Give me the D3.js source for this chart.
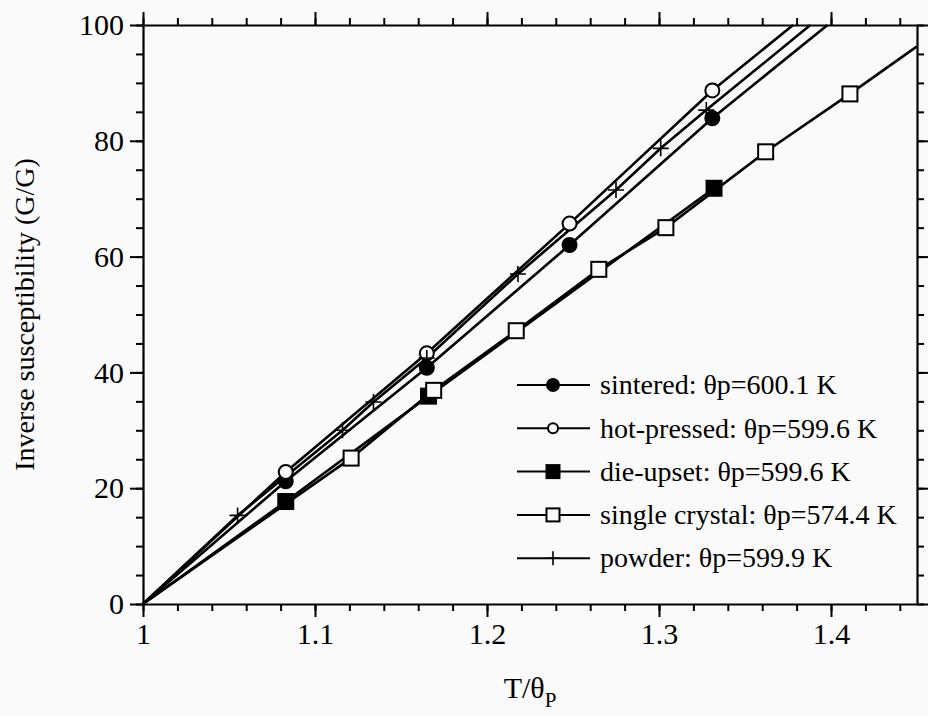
<!DOCTYPE html>
<html>
<head>
<meta charset="utf-8">
<script src="https://cdn.jsdelivr.net/npm/d3@7"></script>
<style>
  html, body { margin: 0; padding: 0; background: #fafafa; }
  svg { display: block; }
  text { font-family: 'Liberation Serif', 'Times New Roman', serif; fill: #000; }
</style>
</head>
<body>
<div id="chart"></div>
<script>
// values (x = T/θp, y = inverse susceptibility)
const origin = [1, 0];

const sinteredX = [1.083, 1.165, 1.248, 1.331];
const sinteredY = [21.2, 40.8, 62.0, 83.9];
const sinteredEnd = [1.398, 100];

const hotPressedX = [1.083, 1.165, 1.248, 1.331];
const hotPressedY = [22.8, 43.3, 65.7, 88.7];
const hotPressedEnd = [1.378, 100];

const dieUpsetX = [1.083, 1.166, 1.332];
const dieUpsetY = [17.7, 35.9, 71.8];

const singleCrystalX = [1.121, 1.169, 1.217, 1.265, 1.304, 1.362, 1.411];
const singleCrystalY = [25.2, 36.9, 47.2, 57.8, 65.0, 78.1, 88.1];
const singleCrystalEnd = [1.45, 96.3];

const powderX = [1.055, 1.116, 1.134, 1.165, 1.218, 1.275, 1.301, 1.3275];
const powderY = [15.3, 30.0, 34.9, 42.5, 57.0, 71.5, 78.7, 85.3];
const powderEnd = [1.388, 100];

const legendLabels = [
    "sintered: θp=600.1 K",
    "hot-pressed: θp=599.6 K",
    "die-upset: θp=599.6 K",
    "single crystal: θp=574.4 K",
    "powder: θp=599.9 K"
];

const xTicks = [1, 1.1, 1.2, 1.3, 1.4];
const xTickLabels = ["1", "1.1", "1.2", "1.3", "1.4"];
const xMinorTicks = d3.range(1, 1.4501, 0.02);
const yTicks = [0, 20, 40, 60, 80, 100];
const yTickLabels = ["0", "20", "40", "60", "80", "100"];
const yMinorTicks = d3.range(0, 100.01, 5);

const width = 928, height = 716;
const plotLeft = 143, plotRight = 917, plotTop = 25, plotBottom = 604;

const x = d3.scaleLinear().domain([1, 1.45]).range([plotLeft, plotRight]);
const y = d3.scaleLinear().domain([0, 100]).range([plotBottom, plotTop]);

const svg = d3.select("#chart").append("svg")
    .attr("width", width)
    .attr("height", height);

function zip(xs, ys) { return xs.map((v, k) => [v, ys[k]]); }

const series = [
    { pts: zip(sinteredX, sinteredY), end: sinteredEnd, marker: "filledCircle" },
    { pts: zip(hotPressedX, hotPressedY), end: hotPressedEnd, marker: "openCircle" },
    { pts: zip(dieUpsetX, dieUpsetY), end: null, marker: "filledSquare" },
    { pts: zip(singleCrystalX, singleCrystalY), end: singleCrystalEnd, marker: "openSquare" },
    { pts: zip(powderX, powderY), end: powderEnd, marker: "plus" }
];

// axes: major + minor ticks on all four sides, ticks point outward
function drawAxis(axisFn, scale, major, labels, minor, transform, showLabels) {
    const gMinor = svg.append("g").attr("transform", transform)
        .call(axisFn(scale).tickValues(minor).tickSize(7).tickSizeOuter(0).tickFormat(""));
    gMinor.select(".domain").attr("stroke-width", 2.2);
    gMinor.selectAll(".tick line").attr("stroke-width", 2);

    const gMajor = svg.append("g").attr("transform", transform)
        .call(axisFn(scale).tickValues(major).tickSize(13).tickSizeOuter(0).tickPadding(6)
            .tickFormat((d, k) => showLabels ? labels[k] : ""));
    gMajor.select(".domain").remove();
    gMajor.selectAll(".tick line").attr("stroke-width", 2);
    gMajor.selectAll(".tick text")
        .style("font-family", "'Liberation Serif', serif")
        .style("font-size", "30px")
        .attr("fill", "#000");
    return gMajor;
}

drawAxis(d3.axisBottom, x, xTicks, xTickLabels, xMinorTicks, `translate(0,${plotBottom})`, true);
drawAxis(d3.axisTop, x, xTicks, xTickLabels, xMinorTicks, `translate(0,${plotTop})`, false);
drawAxis(d3.axisLeft, y, yTicks, yTickLabels, yMinorTicks, `translate(${plotLeft},0)`, true);
drawAxis(d3.axisRight, y, yTicks, yTickLabels, yMinorTicks, `translate(${plotRight},0)`, false);

// data lines
const line = d3.line().x(d => x(d[0])).y(d => y(d[1]));
series.forEach(s => {
    const path = [origin, ...s.pts];
    if (s.end) path.push(s.end);
    svg.append("path")
        .attr("d", line(path))
        .attr("fill", "none")
        .attr("stroke", "#000")
        .attr("stroke-width", 2.6);
});

function drawMarker(g, type, cx, cy, r) {
    if (type === "filledCircle" || type === "openCircle") {
        g.append("circle").attr("cx", cx).attr("cy", cy).attr("r", r)
            .attr("fill", type === "filledCircle" ? "#000" : "#fafafa")
            .attr("stroke", "#000").attr("stroke-width", 2);
    } else if (type === "filledSquare" || type === "openSquare") {
        g.append("rect").attr("x", cx - r).attr("y", cy - r)
            .attr("width", 2 * r).attr("height", 2 * r)
            .attr("fill", type === "filledSquare" ? "#000" : "#fafafa")
            .attr("stroke", "#000").attr("stroke-width", 2);
    } else if (type === "plus") {
        g.append("path")
            .attr("d", `M${cx - r},${cy}H${cx + r}M${cx},${cy - r}V${cy + r}`)
            .attr("stroke", "#000").attr("stroke-width", 1.6).attr("fill", "none");
    }
}

const markerSize = { filledCircle: 7, openCircle: 7, filledSquare: 7.5, openSquare: 7.5, plus: 8 };

const gMarks = svg.append("g");
series.forEach(s => {
    s.pts.forEach(p => drawMarker(gMarks, s.marker, x(p[0]), y(p[1]), markerSize[s.marker]));
});

// legend
const legend = svg.append("g");
const legendSize = { filledCircle: 6, openCircle: 5, filledSquare: 6.5, openSquare: 6.5, plus: 7 };
series.forEach((s, k) => {
    const ly = 385 + k * 43.3;
    legend.append("line")
        .attr("x1", 517).attr("x2", 590).attr("y1", ly).attr("y2", ly)
        .attr("stroke", "#000").attr("stroke-width", 2);
    drawMarker(legend, s.marker, 553, ly, legendSize[s.marker]);
    legend.append("text")
        .attr("x", 600).attr("y", ly).attr("dy", "0.33em")
        .style("font-size", "28px")
        .text(legendLabels[k]);
});

// axis titles
svg.append("text")
    .attr("transform", `translate(34,${(plotTop + plotBottom) / 2}) rotate(-90)`)
    .attr("text-anchor", "middle")
    .style("font-size", "28px")
    .text("Inverse susceptibility (G/G)");

const xTitle = svg.append("text")
    .attr("x", (plotLeft + plotRight) / 2)
    .attr("y", 698)
    .attr("text-anchor", "middle")
    .style("font-size", "30px");
xTitle.append("tspan").text("T/θ");
xTitle.append("tspan").attr("dy", 9).style("font-size", "21px").text("P");
</script>
</body>
</html>
